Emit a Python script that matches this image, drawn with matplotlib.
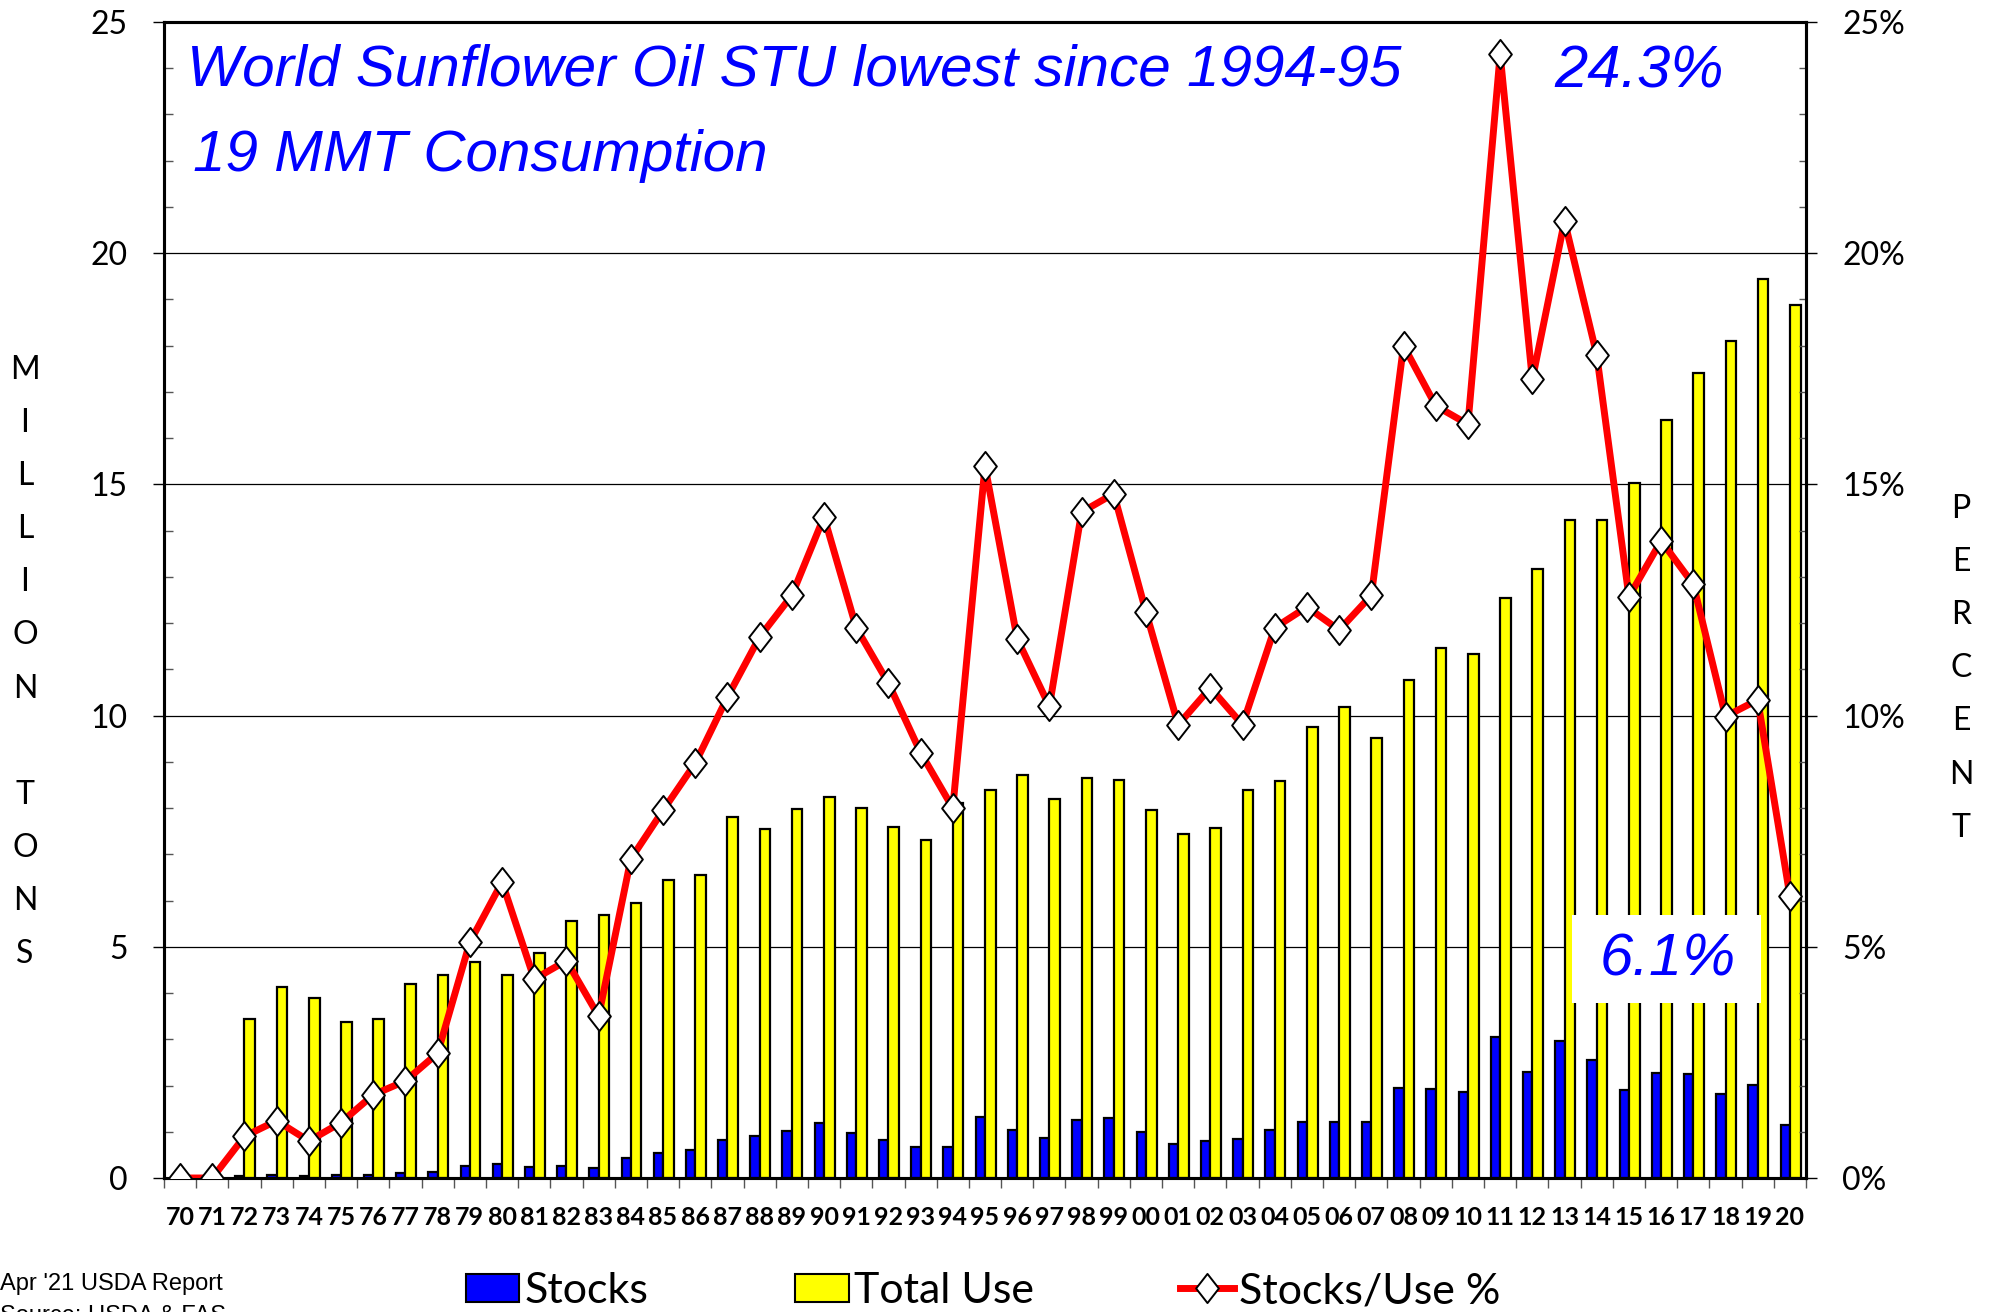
import matplotlib
matplotlib.use('Agg')
import matplotlib.pyplot as plt
import numpy as np
from matplotlib.patches import Patch, Rectangle
from matplotlib.lines import Line2D
from matplotlib.path import Path
from matplotlib.ticker import MultipleLocator, FixedLocator, PercentFormatter, NullFormatter

years = ['70', '71', '72', '73', '74', '75', '76', '77', '78', '79',
         '80', '81', '82', '83', '84', '85', '86', '87', '88', '89',
         '90', '91', '92', '93', '94', '95', '96', '97', '98', '99',
         '00', '01', '02', '03', '04', '05', '06', '07', '08', '09',
         '10', '11', '12', '13', '14', '15', '16', '17', '18', '19', '20']

# million tons
stocks = [0.0, 0.0, 0.04, 0.07, 0.04, 0.07, 0.07, 0.11, 0.14, 0.26,
          0.30, 0.23, 0.27, 0.22, 0.43, 0.53, 0.60, 0.83, 0.90, 1.02,
          1.20, 0.97, 0.83, 0.68, 0.66, 1.31, 1.03, 0.86, 1.25, 1.30,
          0.99, 0.74, 0.81, 0.84, 1.03, 1.22, 1.22, 1.21, 1.95, 1.93,
          1.87, 3.06, 2.29, 2.96, 2.55, 1.91, 2.27, 2.25, 1.82, 2.02, 1.15]

total_use = [0.0, 0.0, 3.44, 4.13, 3.90, 3.38, 3.44, 4.20, 4.40, 4.68,
             4.40, 4.87, 5.56, 5.69, 5.94, 6.44, 6.55, 7.81, 7.54, 7.98,
             8.25, 8.00, 7.59, 7.32, 8.10, 8.39, 8.72, 8.20, 8.64, 8.61,
             7.95, 7.45, 7.56, 8.39, 8.58, 9.76, 10.18, 9.52, 10.78, 11.47,
             11.33, 12.54, 13.17, 14.22, 14.22, 15.04, 16.39, 17.41, 18.10, 19.44, 18.87]

# percent
stu = [0.0, 0.0, 0.9, 1.24, 0.8, 1.2, 1.8, 2.1, 2.7, 5.1,
       6.4, 4.3, 4.7, 3.5, 6.9, 7.95, 8.97, 10.4, 11.7, 12.6,
       14.3, 11.9, 10.7, 9.2, 8.0, 15.4, 11.66, 10.2, 14.4, 14.8,
       12.24, 9.8, 10.6, 9.8, 11.9, 12.35, 11.85, 12.6, 18.0, 16.7,
       16.3, 24.3, 17.27, 20.7, 17.8, 12.57, 13.78, 12.84, 9.98, 10.34, 6.1]

x = np.arange(len(years))

# tall diamond marker
diamond = Path([(0, 1), (0.78, 0), (0, -1), (-0.78, 0), (0, 1)],
               [Path.MOVETO, Path.LINETO, Path.LINETO, Path.LINETO, Path.CLOSEPOLY])

W, H = 1994, 1312
fig = plt.figure(figsize=(W / 100, H / 100), dpi=100)
ax = fig.add_axes([164 / W, 1 - 1178 / H, 1642 / W, 1156 / H])

ax.bar(x - 0.145, stocks, 0.29, color='#0000FF', edgecolor='black', linewidth=1.6, zorder=3)
ax.bar(x + 0.165, total_use, 0.33, color='#FFFF00', edgecolor='black', linewidth=1.6, zorder=3)

ax.set_xlim(-0.5, len(years) - 0.5)
ax.set_ylim(0, 25)
ax.yaxis.set_major_locator(MultipleLocator(5))
ax.yaxis.set_minor_locator(MultipleLocator(1))
ax.grid(axis='y', which='major', color='black', linewidth=0.9, zorder=0)
ax.set_axisbelow(True)

# category boundaries get the ticks, centres get the labels
ax.xaxis.set_major_locator(FixedLocator(np.arange(len(years) + 1) - 0.5))
ax.xaxis.set_major_formatter(NullFormatter())
ax.xaxis.set_minor_locator(FixedLocator(x))
ax.set_xticks(x, years, minor=True)
ax.tick_params(axis='x', which='major', direction='out', length=7, width=1, color='#555555')
ax.tick_params(axis='x', which='minor', length=0, pad=20)
for lbl in ax.get_xticklabels(minor=True):
    lbl.set_fontfamily('Lato')
    lbl.set_fontweight('bold')
    lbl.set_fontsize(18)

ax.tick_params(axis='y', which='major', direction='out', length=8, width=1, pad=18,
               labelsize=23)
ax.tick_params(axis='y', which='minor', direction='in', length=6.5, width=1, color='#555555')
for lbl in ax.get_yticklabels():
    lbl.set_fontfamily('Lato')

for side in ['left', 'right', 'top', 'bottom']:
    ax.spines[side].set_linewidth(2.2)
ax.spines['left'].set_color('#333333')

ax2 = ax.twinx()
ax2.plot(x, stu, color='#FF0000', linewidth=5, marker=diamond, markersize=21,
         markerfacecolor='white', markeredgecolor='black', markeredgewidth=1.4, zorder=5)
ax2.set_ylim(0, 25)
ax2.yaxis.set_major_locator(MultipleLocator(5))
ax2.yaxis.set_minor_locator(MultipleLocator(1))
ax2.yaxis.set_major_formatter(PercentFormatter(decimals=0))
ax2.tick_params(axis='y', which='major', direction='out', length=8, width=1, pad=18, labelsize=23)
ax2.tick_params(axis='y', which='minor', direction='in', length=5, width=1, color='#555555')
for lbl in ax2.get_yticklabels():
    lbl.set_fontfamily('Lato')
for side in ['left', 'right', 'top', 'bottom']:
    ax2.spines[side].set_linewidth(2.2)

blue = '#0000FF'
ax2.text(0.014, 0.958, 'World Sunflower Oil STU lowest since 1994-95', transform=ax.transAxes,
         fontsize=42, style='italic', color=blue, family='Liberation Sans', va='center', ha='left')
ax2.text(0.0177, 0.884, '19 MMT Consumption', transform=ax.transAxes,
         fontsize=42, style='italic', color=blue, family='Liberation Sans', va='center', ha='left')
ax2.text(0.8465, 0.957, '24.3%', transform=ax.transAxes,
         fontsize=43, style='italic', color=blue, family='Liberation Sans', va='center', ha='left')

# white panel behind the latest value
ax2.add_patch(Rectangle((0.8575, 0.1514), 0.1151, 0.0761, transform=ax.transAxes,
                        facecolor='white', edgecolor='none', zorder=6))
ax2.text(0.916, 0.189, '6.1%', transform=ax.transAxes, zorder=7,
         fontsize=43, style='italic', color=blue, family='Liberation Sans', va='center', ha='center')

# stacked axis titles
for i, ch in enumerate('MILLION TONS'):
    fig.text(25 / W, 1 - (370 + i * 53.1) / H, ch, fontsize=23, family='Lato',
             ha='center', va='center')
for i, ch in enumerate('PERCENT'):
    fig.text(1961 / W, 1 - (509 + i * 53.1) / H, ch, fontsize=23, family='Lato',
             ha='center', va='center')

handles = [Patch(facecolor='#0000FF', edgecolor='black', linewidth=1.5),
           Patch(facecolor='#FFFF00', edgecolor='black', linewidth=1.5),
           Line2D([0], [0], color='#FF0000', linewidth=5, marker=diamond, markersize=21,
                  markerfacecolor='white', markeredgecolor='black', markeredgewidth=1.4)]
fig.legend(handles, ['Stocks', 'Total Use', 'Stocks/Use %'], loc='center',
           bbox_to_anchor=(0.493, 1 - 1291 / H), ncol=3, frameon=False,
           prop={'family': 'Lato', 'size': 31}, handlelength=1.25, handleheight=0.65,
           handletextpad=0.12, columnspacing=3.4, borderaxespad=0)

fig.text(0.0, 1 - 1284 / H, "Apr '21 USDA Report", fontsize=17,
         family='Liberation Sans', ha='left', va='center')
fig.text(0.0, 1 - 1316 / H, 'Source: USDA & FAS', fontsize=17,
         family='Liberation Sans', ha='left', va='center')

fig.savefig('out.png', dpi=100)
